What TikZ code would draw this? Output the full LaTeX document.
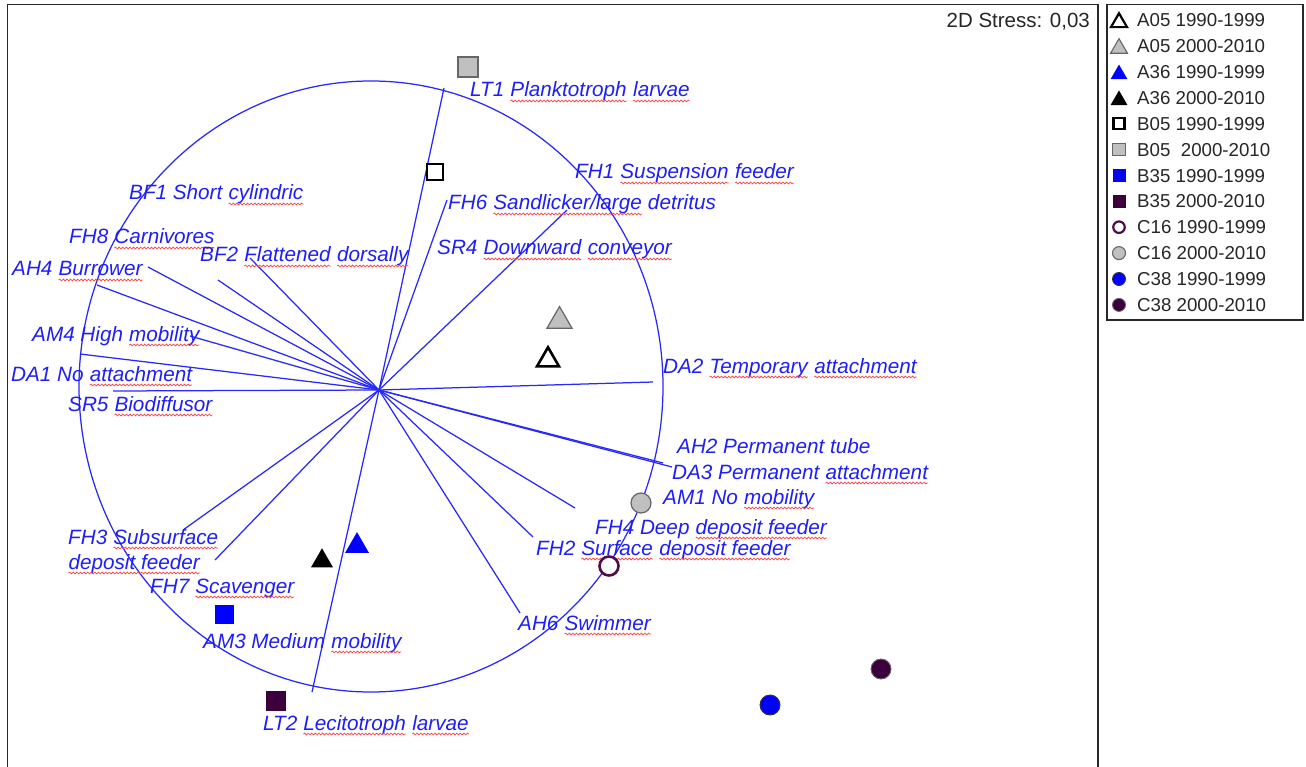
\documentclass[tikz,border=0pt]{standalone}
\usepackage{fontspec}
\setmainfont{Liberation Sans}
\usetikzlibrary{shapes.geometric,decorations.pathmorphing}
\definecolor{labblue}{RGB}{30,30,245}
\definecolor{vecblue}{RGB}{40,40,250}
\definecolor{pureblue}{RGB}{0,0,255}
\definecolor{plum}{RGB}{60,0,60}
\definecolor{rimplum}{RGB}{80,10,70}
\definecolor{mgray}{RGB}{192,192,192}
\definecolor{wavered}{RGB}{255,70,70}
\definecolor{framegray}{RGB}{40,40,40}
\newcommand\sq[1]{\tikz[baseline=0pt,x=1pt,y=1pt]{\node[inner sep=0pt,outer sep=0pt,anchor=base west] (w) at (0,0) {#1};\draw[wavered,line width=0.75pt,decorate,decoration={snake,amplitude=0.9pt,segment length=3.6pt}] ([yshift=-4pt]w.base west) -- ([yshift=-4pt]w.base east);}}
\tikzset{
  lab/.style={anchor=base west, inner sep=0pt, text=labblue, font=\fontsize{20.7}{24}\selectfont\itshape},
  legtext/.style={anchor=base west, inner sep=0pt, text=black!85, font=\fontsize{18.7}{22}\selectfont},
  vec/.style={draw=vecblue, line width=1.25pt},
  frame/.style={draw=framegray, line width=1.3pt},
  tri/.style={regular polygon, regular polygon sides=3, inner sep=0pt, minimum size=#1},
  sqr/.style={rectangle, inner sep=0pt, minimum size=#1},
  dot/.style={circle, inner sep=0pt, minimum size=#1},
}
\begin{document}
\begin{tikzpicture}[x=1pt,y=-1pt]
\useasboundingbox (0,0) rectangle (1306,767);
% frames
\draw[frame] (7.5,767) -- (7.5,4.5) -- (1098,4.5) -- (1098,767);
\draw[frame] (1107,4.5) rectangle (1303,320);
\node[anchor=base east, inner sep=0pt, text=black!85, font=\fontsize{20.5}{24}\selectfont] (stress) at (1090,28) {2D Stress: 0,03};
% circle
\draw[vec] (371,386.5) ellipse [x radius=292, y radius=305.5];
% vector endpoints
\coordinate (O) at (379,390);
\coordinate (AH4e) at (97,285);
\coordinate (FH8e) at (148,267);
\coordinate (BF1e) at (218,280);
\coordinate (BF2e) at (250,258);
\coordinate (AM4e) at (190,336);
\coordinate (DA1e) at (80,354);
\coordinate (SR5e) at (113,391);
\coordinate (LT1e) at (444,88);
\coordinate (FH6e) at (447,200);
\coordinate (FH1e) at (567,210);
\coordinate (DA2e) at (653,382);
\coordinate (AH2e) at (663,463);
\coordinate (DA3e) at (672,467);
\coordinate (AM1e) at (575,508);
\coordinate (FH2e) at (533,537);
\coordinate (AH6e) at (520,613);
\coordinate (LT2e) at (312,692);
\coordinate (FH3e) at (183,530);
\coordinate (FH7e) at (215,560);
\foreach \e in {AH4e,FH8e,BF1e,BF2e,AM4e,DA1e,SR5e,LT1e,FH6e,FH1e,DA2e,AH2e,DA3e,AM1e,FH2e,AH6e,LT2e,FH3e,FH7e}
  \draw[vec] (O) -- (\e);
% labels
\node[lab] (LT1) at (470,97) {LT1 \sq{Planktotroph} \sq{larvae}};
\node[lab] (FH1) at (575,179) {FH1 \sq{Suspension} \sq{feeder}};
\node[lab] (FH6) at (448,210) {FH6 \sq{Sandlicker/large} detritus};
\node[lab] (SR4) at (437,255) {SR4 \sq{Downward} \sq{conveyor}};
\node[lab] (BF1) at (129,200) {BF1 Short \sq{cylindric}};
\node[lab] (FH8) at (69,244) {FH8 \sq{Carnivores}};
\node[lab] (BF2) at (200,262) {BF2 \sq{Flattened} \sq{dorsally}};
\node[lab] (AH4) at (12,276) {AH4 \sq{Burrower}};
\node[lab] (AM4) at (32,341) {AM4 High \sq{mobility}};
\node[lab] (DA1) at (11,381) {DA1 No \sq{attachment}};
\node[lab] (SR5) at (68,411) {SR5 \sq{Biodiffusor}};
\node[lab] (DA2) at (663,373) {DA2 \sq{Temporary} \sq{attachment}};
\node[lab] (AH2) at (677,453) {AH2 Permanent tube};
\node[lab] (DA3) at (672,479) {DA3 Permanent \sq{attachment}};
\node[lab] (AM1) at (663,504) {AM1 No \sq{mobility}};
\node[lab] (FH4) at (595,534) {FH4 Deep \sq{deposit feeder}};
\node[lab] (FH2) at (536,555) {FH2 \sq{Surface} \sq{deposit feeder}};
\node[lab] (FH3a) at (68,544) {FH3 \sq{Subsurface}};
\node[lab] (FH3b) at (68,569) {\sq{deposit feeder}};
\node[lab] (FH7) at (150,593) {FH7 \sq{Scavenger}};
\node[lab] (AH6) at (518,630) {AH6 \sq{Swimmer}};
\node[lab] (AM3) at (203,648) {AM3 Medium \sq{mobility}};
\node[lab] (LT2) at (263,730) {LT2 \sq{Lecitotroph} \sq{larvae}};
% samples
\node[tri=25.4, draw=black, fill=white, line width=2.6pt] (A05a) at (548,360) {};
\node[tri=28.9, draw=black!60, fill=mgray, line width=1.2pt] (A05b) at (559.5,321) {};
\node[tri=27.7, fill=pureblue] (A36a) at (357,546) {};
\node[tri=25.4, fill=black] (A36b) at (322,561) {};
\node[sqr=16, draw=black, fill=white, line width=2.6pt] (B05a) at (435,172) {};
\node[sqr=20, draw=black!60, fill=mgray, line width=1.2pt] (B05b) at (468,67) {};
\node[sqr=19, fill=pureblue] (B35a) at (224,614) {};
\node[sqr=20, fill=plum] (B35b) at (276,701) {};
\node[dot=19, draw=rimplum, fill=white, line width=2.6pt] (C16a) at (609,566) {};
\node[dot=20, draw=black!60, fill=mgray, line width=1.2pt] (C16b) at (641,503) {};
\node[dot=20, draw=black!80, fill=pureblue, line width=0.9pt] (C38a) at (770,705) {};
\node[dot=20, draw=black!60, fill=plum, line width=0.9pt] (C38b) at (881,669) {};
% legend
\node[tri=18.5, draw=black, fill=white, line width=2.2pt] (L1) at (1119,22.5) {};
\node[legtext] (T1) at (1137,26.7) {A05 1990-1999};
\node[tri=19.5, draw=black!60, fill=mgray, line width=1.1pt] (L2) at (1119,48.4) {};
\node[legtext] (T2) at (1137,52.6) {A05 2000-2010};
\node[tri=19.5, fill=pureblue] (L3) at (1119,74.3) {};
\node[legtext] (T3) at (1137,78.5) {A36 1990-1999};
\node[tri=19.5, fill=black] (L4) at (1119,100.2) {};
\node[legtext] (T4) at (1137,104.4) {A36 2000-2010};
\node[sqr=11, draw=black, fill=white, line width=2.2pt] (L5) at (1119,123.6) {};
\node[legtext] (T5) at (1137,130.3) {B05 1990-1999};
\node[sqr=12.5, draw=black!60, fill=mgray, line width=1.1pt] (L6) at (1119,149.5) {};
\node[legtext] (T6) at (1137,156.2) {B05\ \ 2000-2010};
\node[sqr=13, fill=pureblue] (L7) at (1119,175.4) {};
\node[legtext] (T7) at (1137,182.1) {B35 1990-1999};
\node[sqr=13, fill=plum] (L8) at (1119,201.3) {};
\node[legtext] (T8) at (1137,208) {B35 2000-2010};
\node[dot=11.5, draw=rimplum, fill=white, line width=2.2pt] (L9) at (1119,227.2) {};
\node[legtext] (T9) at (1137,233.9) {C16 1990-1999};
\node[dot=13, draw=black!60, fill=mgray, line width=1.1pt] (L10) at (1119,253.1) {};
\node[legtext] (T10) at (1137,259.8) {C16 2000-2010};
\node[dot=13, draw=black!80, fill=pureblue, line width=0.9pt] (L11) at (1119,279) {};
\node[legtext] (T11) at (1137,285.7) {C38 1990-1999};
\node[dot=13, draw=black!60, fill=plum, line width=0.9pt] (L12) at (1119,304.9) {};
\node[legtext] (T12) at (1137,311.6) {C38 2000-2010};
\end{tikzpicture}
\end{document}
